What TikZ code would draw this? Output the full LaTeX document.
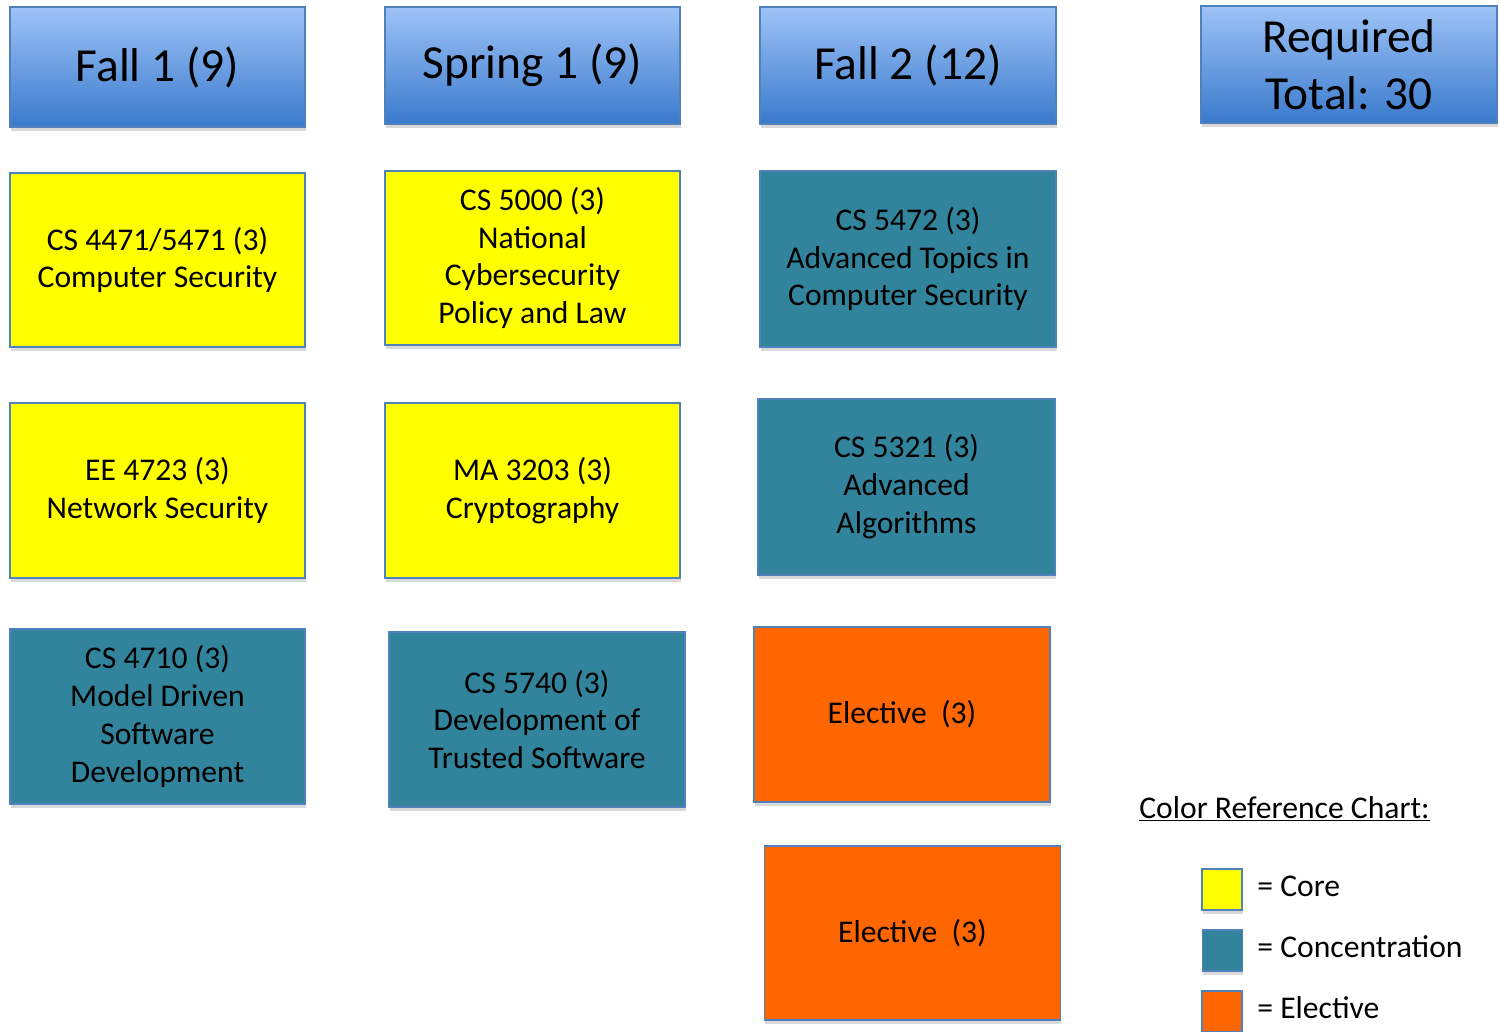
\documentclass[tikz,border=0pt]{standalone}
\usepackage{fontspec}
\setmainfont{Carlito}
\usetikzlibrary{shadows}

\definecolor{coreyellow}{RGB}{255,255,0}
\definecolor{concteal}{RGB}{49,132,155}
\definecolor{electorange}{RGB}{255,102,0}
\definecolor{boxedge}{RGB}{79,129,189}
\definecolor{headtop}{RGB}{158,195,247}
\definecolor{headbot}{RGB}{58,122,204}

\tikzset{
  course/.style={draw=boxedge, line width=0.7pt, align=center, inner sep=0pt,
    minimum width=5.9cm, minimum height=3.5cm,
    font=\fontsize{18}{21.6}\selectfont,
    drop shadow={opacity=0.3, shadow xshift=0.4pt, shadow yshift=-2.5pt}},
  header/.style={course, top color=headtop, bottom color=headbot,
    minimum height=2.34cm, font=\fontsize{27}{32.5}\selectfont},
  core/.style={course, fill=coreyellow},
  conc/.style={course, fill=concteal},
  elective/.style={course, fill=electorange},
  swatch/.style={draw=boxedge, line width=0.7pt, inner sep=0pt,
    minimum width=0.8cm, minimum height=0.82cm,
    drop shadow={opacity=0.3, shadow xshift=0.3pt, shadow yshift=-2pt}},
  legendtext/.style={anchor=west, inner sep=0pt, font=\fontsize{18}{21.6}\selectfont}
}

\begin{document}
\begin{tikzpicture}[x=0.02cm, y=-0.02cm]
% page size of the reference
\useasboundingbox (0,0) rectangle (1500,1031);

% semester headers
\node[header] (fallone) at (157.5,67) [minimum height=2.4cm] {Fall 1 (9)};
\node[header] (springone) at (532.5,65.5) {Spring 1 (9)};
\node[header] (falltwo) at (908,65.5) [minimum width=5.92cm] {Fall 2 (12)};
\node[header] (total) at (1349,64.5) [minimum width=5.92cm] {Required\\Total: 30};

% first row
\node[core] (cs4471) at (157.5,260) [minimum height=3.48cm] {CS 4471/5471 (3)\\Computer Security};
\node[core] (cs5000) at (532.5,258) [minimum height=3.48cm] {CS 5000 (3)\\National\\Cybersecurity\\Policy and Law};
\node[conc] (cs5472) at (908,259) [minimum width=5.92cm, minimum height=3.52cm] {CS 5472 (3)\\Advanced Topics in\\Computer Security};

% second row
\node[core] (ee4723) at (157.5,490.5) {EE 4723 (3)\\Network Security};
\node[core] (ma3203) at (532.5,490.5) {MA 3203 (3)\\Cryptography};
\node[conc] (cs5321) at (906.5,487) [minimum width=5.94cm, minimum height=3.52cm] {CS 5321 (3)\\Advanced\\Algorithms};

% third row
\node[conc] (cs4710) at (157.5,716.5) {CS 4710 (3)\\Model Driven\\Software\\Development};
\node[conc] (cs5740) at (537,719.5) [minimum width=5.92cm] {CS 5740 (3)\\Development of\\Trusted Software};
\node[elective] (electone) at (902,714.5) [minimum width=5.92cm] {Elective~~(3)};

% fourth row
\node[elective] (electtwo) at (912.5,933) [minimum width=5.92cm, minimum height=3.48cm] {Elective~~(3)};

% colour legend
\node[legendtext] (chart) at (1139,809) {\underline{Color Reference Chart:}};
\node[swatch, fill=coreyellow] (keycore) at (1222,889.5) {};
\node[legendtext] (txtcore) at (1257,886) {= Core};
\node[swatch, fill=concteal] (keyconc) at (1222.5,950.5) {};
\node[legendtext] (txtconc) at (1257,947) {= Concentration};
\node[swatch, fill=electorange] (keyelect) at (1222,1011.5) {};
\node[legendtext] (txtelect) at (1257,1008) {= Elective};
\end{tikzpicture}
\end{document}
